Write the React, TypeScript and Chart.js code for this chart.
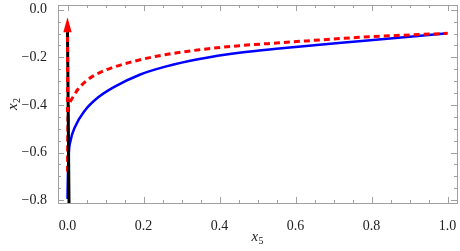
import React, { useEffect, useRef } from "react";
import { Chart, registerables } from "chart.js";

Chart.register(...registerables);

// Tick values and labels
const xTickValues = [0, 0.2, 0.4, 0.6, 0.8, 1.0];
const xTickLabels = ["0.0", "0.2", "0.4", "0.6", "0.8", "1.0"];
const yTickValues = [0, -0.2, -0.4, -0.6, -0.8];
const yTickLabels = ["0.0", "\u22120.2", "\u22120.4", "\u22120.6", "\u22120.8"];
const xMinorStep = 0.05;
const yMinorStep = 0.05;

// Blue solid curve
const blueX = [0.0, 0.001, 0.0035, 0.008, 0.019, 0.045, 0.08, 0.122, 0.19, 0.26, 0.347, 0.452, 0.557, 0.767, 1.0];
const blueY = [-0.795, -0.7, -0.6, -0.55, -0.495, -0.425, -0.369, -0.325, -0.273, -0.238, -0.207, -0.181, -0.163, -0.132, -0.099];

// Red dashed curve
const redX = [0.0, 0.0005, 0.0016, 0.006, 0.015, 0.028, 0.05, 0.08, 0.12, 0.164, 0.242, 0.347, 0.452, 0.557, 0.767, 1.0];
const redY = [-0.68, -0.55, -0.43, -0.39, -0.365, -0.333, -0.298, -0.268, -0.242, -0.221, -0.193, -0.168, -0.151, -0.139, -0.116, -0.099];

// Arrow along x5 = 0
const shaftX = [0.004, 0.0];
const shaftY = [-0.815, -0.094];
const redShaftX = [0.0, 0.0];
const redShaftY = [-0.43, -0.094];
const headX = [-0.011, 0.0, 0.011];
const headY = [-0.094, -0.031, -0.094];

const xTitle = { base: "x", sub: "5" };
const yTitle = { base: "x", sub: "2" };

const toPts = (xs: number[], ys: number[]) => xs.map((x, i) => ({ x, y: ys[i] }));

const FRAME = "#a0a0a0";
const SERIF = "'Liberation Serif', 'DejaVu Serif', serif";

const framePlugin = {
  id: "mmaFrame",
  beforeDatasetsDraw(chart: any) {
    const { ctx, chartArea: a, scales } = chart;
    const xs = scales.x;
    const ys = scales.y;
    ctx.save();
    ctx.strokeStyle = FRAME;
    ctx.lineWidth = 1;
    ctx.strokeRect(Math.round(a.left) + 0.5, Math.round(a.top) + 0.5, Math.round(a.right - a.left), Math.round(a.bottom - a.top));
    const major = 6;
    const minor = 3;
    const eps = 1e-6;
    for (let v = Math.ceil(xs.min / xMinorStep) * xMinorStep; v <= xs.max + eps; v += xMinorStep) {
      const isMajor = xTickValues.some((t) => Math.abs(t - v) < eps);
      const len = isMajor ? major : minor;
      const px = Math.round(xs.getPixelForValue(v)) + 0.5;
      ctx.beginPath();
      ctx.moveTo(px, a.bottom);
      ctx.lineTo(px, a.bottom - len);
      ctx.moveTo(px, a.top);
      ctx.lineTo(px, a.top + len);
      ctx.stroke();
    }
    for (let v = Math.ceil(ys.min / yMinorStep) * yMinorStep; v <= ys.max + eps; v += yMinorStep) {
      const isMajor = yTickValues.some((t) => Math.abs(t - v) < eps);
      const len = isMajor ? major : minor;
      const py = Math.round(ys.getPixelForValue(v)) + 0.5;
      ctx.beginPath();
      ctx.moveTo(a.left, py);
      ctx.lineTo(a.left + len, py);
      ctx.moveTo(a.right, py);
      ctx.lineTo(a.right - len, py);
      ctx.stroke();
    }
    ctx.restore();
  },
  afterDatasetsDraw(chart: any) {
    const { ctx, scales } = chart;
    const xs = scales.x;
    const ys = scales.y;
    ctx.save();
    ctx.fillStyle = "#ff0000";
    ctx.beginPath();
    headX.forEach((x, i) => {
      const px = xs.getPixelForValue(x);
      const py = ys.getPixelForValue(headY[i]);
      if (i === 0) ctx.moveTo(px, py);
      else ctx.lineTo(px, py);
    });
    ctx.closePath();
    ctx.fill();
    ctx.restore();
  },
  afterDraw(chart: any) {
    const { ctx, chartArea: a } = chart;
    const drawTitle = (t: { base: string; sub: string }) => {
      ctx.font = `italic 15px ${SERIF}`;
      const wb = ctx.measureText(t.base).width;
      ctx.font = `10px ${SERIF}`;
      const ws = ctx.measureText(t.sub).width;
      const total = wb + ws + 0.5;
      ctx.textBaseline = "alphabetic";
      ctx.textAlign = "left";
      ctx.fillStyle = "#222";
      ctx.font = `italic 15px ${SERIF}`;
      ctx.fillText(t.base, -total / 2, 0);
      ctx.font = `10px ${SERIF}`;
      ctx.fillText(t.sub, -total / 2 + wb + 0.5, 3);
    };
    ctx.save();
    ctx.translate((a.left + a.right) / 2, 241);
    drawTitle(xTitle);
    ctx.restore();
    ctx.save();
    ctx.translate(17, (a.top + a.bottom) / 2);
    ctx.rotate(-Math.PI / 2);
    drawTitle(yTitle);
    ctx.restore();
  },
};

export default function App() {
  const ref = useRef<HTMLCanvasElement | null>(null);
  useEffect(() => {
    if (!ref.current) return;
    const chart = new Chart(ref.current, {
      type: "line",
      data: {
        datasets: [
          {
            data: toPts(redShaftX, redShaftY),
            borderColor: "#ff0000",
            borderWidth: 3,
            borderDash: [5, 5],
            pointRadius: 0,
          },
          {
            data: toPts(shaftX, shaftY),
            borderColor: "#000000",
            borderWidth: 3,
            pointRadius: 0,
          },
          {
            data: toPts(redX, redY),
            borderColor: "#ff0000",
            borderWidth: 3,
            borderDash: [6, 4],
            pointRadius: 0,
            cubicInterpolationMode: "monotone",
          },
          {
            data: toPts(blueX, blueY),
            borderColor: "#0000ff",
            borderWidth: 2.5,
            pointRadius: 0,
            cubicInterpolationMode: "monotone",
          },
        ],
      },
      options: {
        responsive: false,
        animation: false,
        layout: { padding: { top: 5, right: 3, left: 0, bottom: 0 } },
        plugins: { legend: { display: false }, tooltip: { enabled: false } },
        scales: {
          x: {
            type: "linear",
            min: -0.025,
            max: 1.025,
            grid: { display: false },
            border: { display: false },
            afterBuildTicks: (s: any) => {
              s.ticks = xTickValues.map((v) => ({ value: v }));
            },
            afterFit: (s: any) => {
              s.height = 48;
              s.paddingLeft = 0;
              s.paddingRight = 0;
            },
            ticks: {
              autoSkip: false,
              maxRotation: 0,
              padding: 7,
              color: "#222",
              font: { family: SERIF, size: 14 },
              callback: (v: any) => {
                const i = xTickValues.findIndex((t) => Math.abs(t - v) < 1e-6);
                return i >= 0 ? xTickLabels[i] : "";
              },
            },
          },
          y: {
            type: "linear",
            min: -0.812,
            max: 0.02,
            grid: { display: false },
            border: { display: false },
            afterBuildTicks: (s: any) => {
              s.ticks = yTickValues.map((v) => ({ value: v }));
            },
            afterFit: (s: any) => {
              s.width = 58;
              s.paddingTop = 0;
              s.paddingBottom = 0;
            },
            ticks: {
              autoSkip: false,
              padding: 3,
              color: "#222",
              font: { family: SERIF, size: 14 },
              callback: (v: any) => {
                const i = yTickValues.findIndex((t) => Math.abs(t - v) < 1e-6);
                return i >= 0 ? yTickLabels[i] : "";
              },
            },
          },
        },
      },
      plugins: [framePlugin],
    } as any);
    return () => chart.destroy();
  }, []);
  return (
    <div style={{ position: "absolute", left: 0, top: 0, width: 460, height: 251, background: "#fff" }}>
      <canvas ref={ref} width={460} height={251} style={{ display: "block" }} />
    </div>
  );
}
